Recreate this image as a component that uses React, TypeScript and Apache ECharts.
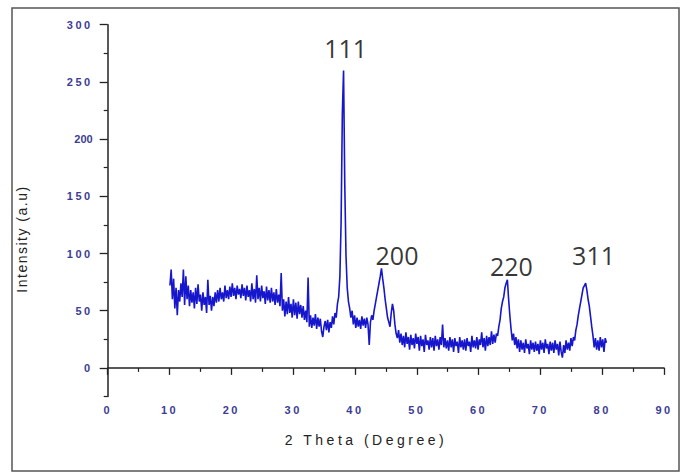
import React, { useEffect, useRef } from "react";
import * as echarts from "echarts";

// ---- data ----
const X_START = 10.07; // 2θ of first sample (degree)
const X_STEP = 0.1978; // sampling step (degree)
const intensity: number[] = [
  72, 86, 60, 78, 52, 70, 46, 68, 58, 74,
  62, 86, 55, 80, 60, 72, 54, 68, 57, 66,
  52, 70, 56, 73, 58, 64, 50, 66, 55, 62,
  48, 77, 55, 63, 50, 62, 54, 66, 57, 68,
  58, 70, 60, 66, 58, 72, 61, 68, 60, 71,
  62, 74, 63, 70, 60, 72, 64, 69, 61, 73,
  63, 70, 59, 72, 62, 68, 58, 74, 60, 69,
  57, 81, 60, 70, 58, 72, 61, 67, 56, 71,
  59, 68, 57, 70, 58, 66, 55, 69, 57, 64,
  54, 83, 50, 60, 45, 58, 47, 62, 48, 56,
  44, 60, 46, 57, 43, 58, 47, 55, 44, 54,
  42, 50, 40, 79, 36, 46, 35, 44, 37, 47,
  34, 44, 36, 43, 32, 27, 36, 41, 33, 42,
  31, 40, 35, 45, 38, 48, 44, 56, 62, 80,
  128, 222, 260, 160, 98, 70, 58, 52, 44, 50,
  38, 46, 35, 44, 36, 42, 34, 45, 37, 43,
  35, 44, 38, 20, 40, 46, 42, 50, 56, 62,
  68, 74, 80, 87, 78, 70, 60, 52, 44, 40,
  36, 48, 56, 50, 38, 30, 26, 33, 22, 30,
  20, 28, 18, 31, 21, 27, 16, 29, 20, 26,
  17, 30, 21, 27, 15, 28, 19, 25, 14, 29,
  20, 24, 16, 27, 18, 26, 15, 28, 19, 25,
  16, 27, 20, 38, 18, 26, 17, 24, 15, 27,
  18, 25, 14, 26, 19, 23, 13, 27, 18, 24,
  16, 25, 15, 26, 19, 23, 14, 28, 18, 24,
  17, 27, 16, 25, 20, 31, 18, 26, 15, 28,
  19, 27, 20, 32, 21, 29, 22, 30, 28, 36,
  42, 52, 58, 62, 70, 74, 77, 60, 46, 34,
  24, 30, 20, 27, 17, 25, 14, 24, 16, 22,
  13, 25, 17, 21, 12, 24, 16, 22, 14, 23,
  15, 21, 12, 24, 16, 22, 13, 25, 17, 21,
  12, 23, 15, 22, 13, 24, 16, 21, 11, 23,
  14, 9, 20, 13, 24, 16, 22, 15, 26, 19,
  27, 24, 33, 38, 46, 52, 58, 64, 70, 72,
  74, 68, 60, 54, 45, 36, 28, 18, 26, 16,
  24, 15, 27, 18, 25, 14, 26, 22,
];

const peakNames = ["111", "200", "220", "311"];
const peakLabelX = [38.5, 46.8, 65.3, 78.6];
const peakLabelY = [280, 99, 89, 99];

const yMajorTicks = [0, 50, 100, 150, 200, 250, 300];
const yMinorTicks = [-25, 25, 75, 125, 175, 225, 275];

const xTitle = "2 Theta (Degree)";
const yTitle = "Intensity (a.u)";

export default function App() {
  const ref = useRef<HTMLDivElement>(null);

  useEffect(() => {
    if (!ref.current) return;
    const chart = echarts.init(ref.current, null, { renderer: "svg" });
    const lineData = intensity.map((v, i) => [
      +(X_START + i * X_STEP).toFixed(3),
      v,
    ]);
    const peakData = peakNames.map((n, i) => [peakLabelX[i], peakLabelY[i], n]);
    const axisColor = "#222";
    const labelColor = "#3c3c94";

    chart.setOption({
      animation: false,
      backgroundColor: "#fff",
      grid: { left: 107.7, right: 20, top: 24.7, bottom: 77.5, containLabel: false },
      xAxis: {
        type: "value",
        min: 0,
        max: 90,
        interval: 10,
        axisLine: { show: true, lineStyle: { color: axisColor, width: 1.5 } },
        axisTick: { show: true, length: 7, lineStyle: { color: axisColor, width: 1.3 } },
        minorTick: { show: true, splitNumber: 2, length: 4, lineStyle: { color: axisColor, width: 1.2 } },
        splitLine: { show: false },
        axisLabel: {
          color: labelColor,
          fontSize: 11,
          fontWeight: "bold",
          margin: 8,
          fontFamily: "Liberation Sans",
        },
      },
      yAxis: [
        {
          type: "value",
          min: -25,
          max: 300,
          position: "left",
          axisLine: { show: true, lineStyle: { color: axisColor, width: 1.5 } },
          axisTick: {
            show: true,
            length: 8,
            customValues: yMajorTicks,
            lineStyle: { color: axisColor, width: 1.3 },
          },
          axisLabel: {
            customValues: yMajorTicks,
            color: labelColor,
            fontSize: 11,
            fontWeight: "bold",
            margin: 15,
            fontFamily: "Liberation Sans",
          },
          splitLine: { show: false },
        },
        {
          type: "value",
          min: -25,
          max: 300,
          position: "left",
          axisLine: { show: false },
          axisTick: {
            show: true,
            length: 4,
            customValues: yMinorTicks,
            lineStyle: { color: axisColor, width: 1.2 },
          },
          axisLabel: { show: false },
          splitLine: { show: false },
        },
      ],
      series: [
        {
          type: "line",
          data: lineData,
          showSymbol: false,
          symbol: "none",
          silent: true,
          lineStyle: { color: "#1616cc", width: 1.6 },
          z: 2,
        },
        {
          type: "scatter",
          data: peakData,
          symbolSize: 1,
          silent: true,
          itemStyle: { color: "rgba(0,0,0,0)" },
          label: {
            show: true,
            position: "inside",
            formatter: (p: any) => p.data[2],
            fontSize: 25,
            fontFamily: "Open Sans",
            color: "#000",
          },
          z: 3,
        },
      ],
      graphic: [
        {
          type: "rect",
          silent: true,
          shape: { x: 12, y: 8, width: 667, height: 463 },
          style: { fill: "none", stroke: "#555", lineWidth: 1.5 },
        },
        {
          type: "text",
          silent: true,
          x: 366,
          y: 440,
          style: {
            text: xTitle,
            fontSize: 14,
            fontFamily: "Liberation Sans",
            fill: "#222",
            align: "center",
            verticalAlign: "middle",
          },
        },
        {
          type: "text",
          silent: true,
          x: 22,
          y: 239,
          rotation: Math.PI / 2,
          style: {
            text: yTitle,
            fontSize: 14,
            fontFamily: "Liberation Sans",
            fill: "#222",
            align: "center",
            verticalAlign: "middle",
          },
        },
      ],
    });

    // widen letter spacing of the axis texts as in the reference
    const texts = ref.current.querySelectorAll("text");
    texts.forEach((t) => {
      const c = (t.textContent || "").trim();
      if (peakNames.includes(c)) return;
      if (/^-?\d+$/.test(c)) t.setAttribute("letter-spacing", "2.5");
      else if (c === xTitle) t.setAttribute("letter-spacing", "3.5");
      else if (c === yTitle) t.setAttribute("letter-spacing", "1.5");
    });

    return () => chart.dispose();
  }, []);

  return (
    <div
      ref={ref}
      style={{ position: "fixed", left: 0, top: 0, width: 684, height: 474, background: "#fff" }}
    />
  );
}
